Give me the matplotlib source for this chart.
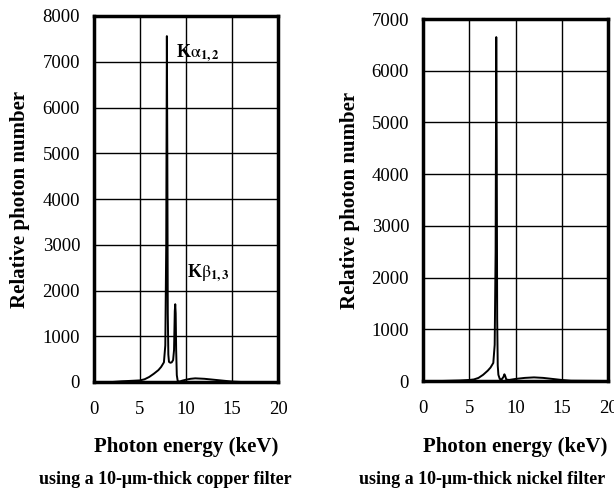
import matplotlib.pyplot as plt

# ==========================================
# DATA
# ==========================================
cu_energy = [0, 2, 3, 4, 4.5, 5, 5.5, 6, 6.5, 7, 7.3, 7.6, 7.75, 7.85, 7.92, 7.97,
             8.02, 8.08, 8.15, 8.3, 8.45, 8.6, 8.7, 8.78, 8.83, 8.88, 8.93, 9.0,
             9.1, 9.3, 9.6, 10, 10.5, 11, 12, 13, 14, 15, 16, 20]
cu_counts = [0, 0, 15, 25, 30, 35, 60, 110, 180, 260, 330, 430, 800, 3000, 7560, 5000,
             1500, 600, 440, 420, 430, 480, 700, 1550, 1700, 1500, 700, 150,
             20, 10, 30, 50, 70, 80, 70, 50, 30, 10, 0, 0]

ni_energy = [0, 2, 4, 5, 5.5, 6, 6.5, 7, 7.3, 7.6, 7.75, 7.85, 7.92, 7.97, 8.02,
             8.08, 8.15, 8.3, 8.5, 8.7, 8.8, 8.9, 9.0, 9.3, 10, 11, 12, 13, 14,
             15, 16, 20]
ni_counts = [0, 0, 10, 20, 30, 60, 120, 200, 260, 350, 700, 2500, 6650, 4500, 1200,
             300, 120, 40, 30, 80, 130, 90, 30, 20, 40, 60, 70, 60, 40,
             20, 5, 0]

ENERGY_TICKS = [0, 5, 10, 15, 20]

plt.rcParams["font.family"] = "Liberation Serif"
plt.rcParams["mathtext.fontset"] = "stix"

W, H = 614, 492
fig = plt.figure(figsize=(W / 100, H / 100), dpi=100)

# rect, ymax, ylabel x (px), caption centre x (px), caption
panels = [
    (cu_energy, cu_counts, [94, 16, 184, 366], 8000, 20, 165,
     "using a 10-\u03bcm-thick copper filter"),
    (ni_energy, ni_counts, [423, 19, 185, 362], 7000, 350, 482,
     "using a 10-\u03bcm-thick nickel filter"),
]

axes = []
for energy, counts, (x0, y0, w, h), ymax, ylab_x, cap_x, caption in panels:
    ax = fig.add_axes([x0 / W, 1 - (y0 + h) / H, w / W, h / H])
    ax.plot(energy, counts, color="black", linewidth=1.4)
    ax.set_xlim(0, 20)
    ax.set_ylim(0, ymax)
    ax.set_xticks(ENERGY_TICKS)
    ax.set_yticks(range(0, ymax + 1, 1000))
    ax.grid(True, color="black", linewidth=1.0)
    ax.set_axisbelow(True)
    ax.tick_params(axis="y", length=0, labelsize=13.5, pad=10)
    ax.tick_params(axis="x", length=0, labelsize=13.5, pad=14)
    for spine in ax.spines.values():
        spine.set_linewidth(2.5)

    fig.text((x0 + w / 2) / W, 1 - 447 / H, "Photon energy (keV)",
             ha="center", va="center", fontsize=15, fontweight="bold")
    fig.text(ylab_x / W, 1 - (y0 + h / 2) / H, "Relative photon number",
             rotation=90, ha="center", va="center", fontsize=15, fontweight="bold")
    fig.text(cap_x / W, 1 - 480 / H, caption, ha="center", va="center",
             fontsize=13, fontweight="bold")
    axes.append(ax)

axes[0].text(8.9, 7100, r"K$\mathrm{\alpha}_{\mathbf{1,2}}$", fontsize=13,
             fontweight="bold", ha="left", va="baseline")
axes[0].text(10.1, 2295, r"K$\mathrm{\beta}_{\mathbf{1,3}}$", fontsize=13,
             fontweight="bold", ha="left", va="baseline")

plt.savefig("out.png", dpi=100)
